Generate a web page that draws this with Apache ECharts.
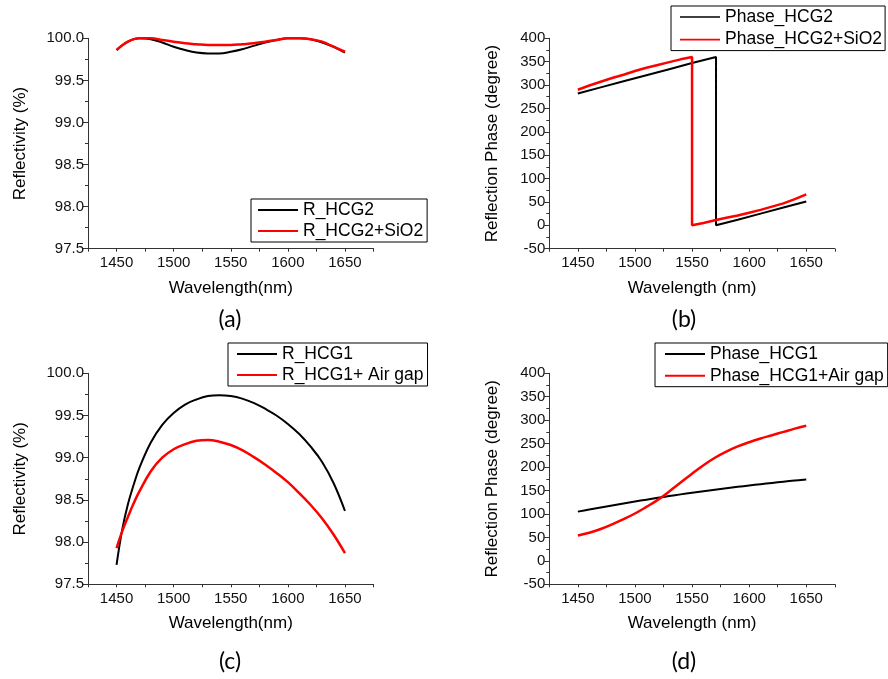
<!DOCTYPE html>
<html>
<head>
<meta charset="utf-8">
<script src="https://cdn.jsdelivr.net/npm/echarts@6/dist/echarts.min.js"></script>
<style>
html,body{margin:0;padding:0;background:#fff;}
#chart{width:888px;height:679px;}
</style>
</head>
<body>
<div id="chart"></div>
<script>
// ---------- data ----------
// (a) reflectivity, HCG2
const wlA = [1450,1460,1470,1480,1490,1500,1510,1520,1530,1540,1550,1560,1570,1580,1590,1600,1610,1620,1630,1640,1650];
const rHCG2 = [99.86,99.96,100.00,99.99,99.95,99.90,99.86,99.83,99.82,99.82,99.84,99.87,99.91,99.95,99.98,100.00,100.00,99.99,99.95,99.90,99.83];
const rHCG2SiO2 = [99.86,99.96,100.00,100.00,99.98,99.96,99.94,99.93,99.92,99.92,99.92,99.93,99.94,99.96,99.98,100.00,100.00,99.99,99.96,99.90,99.84];

// (b) reflection phase, HCG2
const wlB1 = [1450,1470,1490,1510,1530,1550,1571,1571,1590,1610,1630,1650];
const phaseHCG2 = [282,295,308,321,334,347,360,0,12,25,38,51];
const wlB2 = [1450,1460,1470,1480,1490,1500,1510,1520,1530,1540,1550,1550,1560,1570,1580,1590,1600,1610,1620,1630,1640,1650];
const phaseHCG2SiO2 = [290,299,307,315,322,330,337,343,349,355,360,0,5,11,16,21,27,33,40,47,56,66];

// (c) reflectivity, HCG1
const wlC = [1450,1455,1460,1465,1470,1480,1490,1500,1510,1520,1530,1540,1550,1560,1570,1580,1590,1600,1610,1620,1630,1640,1650];
const rHCG1 = [97.73,98.15,98.45,98.68,98.88,99.18,99.39,99.53,99.63,99.69,99.73,99.74,99.73,99.70,99.65,99.58,99.50,99.40,99.28,99.13,98.95,98.70,98.37];
const rHCG1Air = [97.93,98.13,98.30,98.46,98.60,98.84,99.00,99.10,99.16,99.20,99.21,99.19,99.15,99.09,99.01,98.92,98.82,98.71,98.58,98.44,98.28,98.09,97.87];

// (d) reflection phase, HCG1
const wlD = [1450,1460,1470,1480,1490,1500,1510,1520,1530,1540,1550,1560,1570,1580,1590,1600,1610,1620,1630,1640,1650];
const phaseHCG1 = [105,109.5,113.9,118.2,122.4,126.5,130.5,134.4,138.2,141.8,145.2,148.5,151.7,154.8,157.8,160.7,163.5,166.2,168.8,171.3,173.7];
const phaseHCG1Air = [54,60,68,78,89,101,115,130,148,167,186,204,220,233,244,253,261,268,275,282,288];

const seriesNames = ['R_HCG2','R_HCG2+SiO2','Phase_HCG2','Phase_HCG2+SiO2','R_HCG1','R_HCG1+ Air gap','Phase_HCG1','Phase_HCG1+Air gap'];
const xTickLabels = [1450,1500,1550,1600,1650];
const panelLabels = ['(a)','(b)','(c)','(d)'];

// ---------- helpers ----------
const FONT = '"Liberation Sans", Arial, sans-serif';
const AX = '#333';
const pairs = (xs, ys) => xs.map((x, i) => [x, ys[i]]);

function xAxis(grid, name) {
  return {
    gridIndex: grid, type: 'value', min: 1425, max: 1675, interval: 25,
    name: name, nameLocation: 'middle', nameGap: 31,
    nameTextStyle: {fontFamily: FONT, fontSize: 17, color: '#000'},
    axisLine: {show: true, onZero: false, lineStyle: {color: AX, width: 1}},
    axisTick: {show: true, length: 3, lineStyle: {color: AX}},
    splitLine: {show: false},
    axisLabel: {
      fontFamily: FONT, fontSize: 15, color: '#111', margin: 7,
      formatter: v => (xTickLabels.indexOf(v) >= 0 ? String(v) : '')
    }
  };
}
function yAxis(grid, min, max, interval, name, gap, dec) {
  return {
    gridIndex: grid, type: 'value', min: min, max: max, interval: interval,
    name: name, nameLocation: 'middle', nameGap: gap,
    nameTextStyle: {fontFamily: FONT, fontSize: 17, color: '#000'},
    axisLine: {show: true, onZero: false, lineStyle: {color: AX, width: 1}},
    axisTick: {show: true, length: 5, lineStyle: {color: AX}},
    minorTick: {show: true, splitNumber: 2, length: 3, lineStyle: {color: AX}},
    splitLine: {show: false}, minorSplitLine: {show: false},
    axisLabel: {
      fontFamily: FONT, fontSize: 15, color: '#111', margin: 4,
      formatter: v => v.toFixed(dec)
    }
  };
}
function line(name, idx, data, color, width, smooth) {
  return {
    type: 'line', name: name, xAxisIndex: idx, yAxisIndex: idx,
    data: data, symbol: 'none', showSymbol: false,
    smooth: smooth ? 0.4 : false,
    lineStyle: {color: color, width: width}, itemStyle: {color: color},
    emphasis: {disabled: true}, z: color === '#ff0000' ? 3 : 2
  };
}
function legend(names, left, top, padding, gap, lw) {
  return {
    data: names, left: left, top: top, orient: 'vertical',
    padding: padding, itemGap: gap, itemWidth: 40, itemHeight: lw,
    icon: 'rect', borderColor: '#000', borderWidth: 1, backgroundColor: '#fff',
    selectedMode: false,
    textStyle: {fontFamily: FONT, fontSize: 17.5, color: '#000', lineHeight: 18}
  };
}
function label(text, x, y) {
  return {
    type: 'text', x: x, y: y,
    style: {text: text, align: 'center', verticalAlign: 'middle',
            fontFamily: 'Lato, "Noto Sans", sans-serif', fontSize: 23, fill: '#000'}
  };
}

const chart = echarts.init(document.getElementById('chart'), null, {renderer: 'canvas'});
chart.setOption({
  animation: false,
  backgroundColor: '#fff',
  grid: [
    {left: 88, top: 38.3, width: 285.5, height: 210.4, outerBoundsMode: 'none', containLabel: false},
    {left: 549.3, top: 38.3, width: 285.5, height: 210.4, outerBoundsMode: 'none', containLabel: false},
    {left: 88, top: 373.3, width: 285.5, height: 211, outerBoundsMode: 'none', containLabel: false},
    {left: 549.3, top: 373.3, width: 285.5, height: 211, outerBoundsMode: 'none', containLabel: false}
  ],
  xAxis: [
    xAxis(0, 'Wavelength(nm)'),
    xAxis(1, 'Wavelength (nm)'),
    xAxis(2, 'Wavelength(nm)'),
    xAxis(3, 'Wavelength (nm)')
  ],
  yAxis: [
    yAxis(0, 97.5, 100, 0.5, 'Reflectivity (%)', 59, 1),
    yAxis(1, -50, 400, 50, 'Reflection Phase (degree)', 48, 0),
    yAxis(2, 97.5, 100, 0.5, 'Reflectivity (%)', 59, 1),
    yAxis(3, -50, 400, 50, 'Reflection Phase (degree)', 48, 0)
  ],
  legend: [
    legend([seriesNames[0], seriesNames[1]], 251, 199, [2, 4, 2, 7], 3, 2),
    legend([seriesNames[2], seriesNames[3]], 671, 6, [2, 3, 2, 9], 4.6, 1.6),
    legend([seriesNames[4], seriesNames[5]], 228, 343, [2, 4, 2, 9], 3, 2),
    legend([seriesNames[6], seriesNames[7]], 655, 343, [2, 4, 2, 10], 3.7, 2)
  ],
  series: [
    line(seriesNames[0], 0, pairs(wlA, rHCG2), '#000000', 2, true),
    line(seriesNames[1], 0, pairs(wlA, rHCG2SiO2), '#ff0000', 2.5, true),
    line(seriesNames[2], 1, pairs(wlB1, phaseHCG2), '#000000', 2, false),
    line(seriesNames[3], 1, pairs(wlB2, phaseHCG2SiO2), '#ff0000', 2.5, false),
    line(seriesNames[4], 2, pairs(wlC, rHCG1), '#000000', 2, true),
    line(seriesNames[5], 2, pairs(wlC, rHCG1Air), '#ff0000', 2.5, true),
    line(seriesNames[6], 3, pairs(wlD, phaseHCG1), '#000000', 2, true),
    line(seriesNames[7], 3, pairs(wlD, phaseHCG1Air), '#ff0000', 2.5, true)
  ],
  graphic: [
    label(panelLabels[0], 230, 320),
    label(panelLabels[1], 684, 320),
    label(panelLabels[2], 230, 662),
    label(panelLabels[3], 684, 662)
  ]
});
</script>
</body>
</html>
